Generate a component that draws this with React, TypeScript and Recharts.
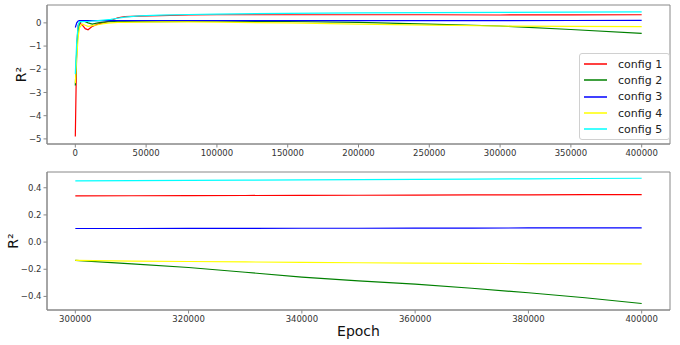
import React from "react";
import {
  LineChart,
  Line,
  XAxis,
  YAxis,
  Legend,
  ReferenceArea,
} from "recharts";

// full training run
const topEpochs = [
  0, 1000, 2000, 3000, 5000, 7000, 9000, 12000, 16000, 20000, 25000, 30000,
  35000, 45000, 60000, 80000, 100000, 150000, 200000, 250000, 300000, 350000, 400000,
];
const topConfig1 = [
  -4.9, -1.0, -0.1, 0.0, -0.1, -0.25, -0.3, -0.15, -0.05, 0.0, 0.1, 0.22,
  0.27, 0.29, 0.31, 0.34, 0.35, 0.35, 0.35, 0.35, 0.34, 0.345, 0.35,
];
const topConfig2 = [
  -2.7, -1.2, -0.3, 0.0, 0.08, 0.05, 0.0, -0.05, 0.0, 0.03, 0.05, 0.05,
  0.05, 0.05, 0.05, 0.06, 0.07, 0.06, 0.02, -0.05, -0.135, -0.285, -0.452,
];
const topConfig3 = [
  -0.2, 0.0, 0.08, 0.1, 0.1, 0.1, 0.1, 0.1, 0.1, 0.1, 0.1, 0.1,
  0.1, 0.1, 0.1, 0.1, 0.1, 0.1, 0.1, 0.1, 0.1, 0.102, 0.105,
];
const topConfig4 = [
  -2.6, -1.5, -0.6, -0.2, -0.05, -0.1, -0.15, -0.12, -0.08, -0.03, 0.0, 0.02,
  0.02, 0.03, 0.04, 0.04, 0.03, 0.0, -0.05, -0.1, -0.135, -0.152, -0.16,
];
const topConfig5 = [
  -2.2, -0.8, -0.1, 0.05, 0.05, 0.06, 0.06, 0.08, 0.1, 0.12, 0.15, 0.2,
  0.25, 0.3, 0.33, 0.36, 0.38, 0.41, 0.43, 0.44, 0.45, 0.46, 0.47,
];

// last 100k epochs, zoomed
const bottomEpochs = [
  300000, 310000, 320000, 330000, 340000, 350000, 360000, 370000, 380000, 390000, 400000,
];
const bottomConfig1 = [0.34, 0.341, 0.342, 0.343, 0.344, 0.345, 0.346, 0.347, 0.348, 0.349, 0.35];
const bottomConfig2 = [-0.135, -0.16, -0.187, -0.222, -0.258, -0.285, -0.31, -0.34, -0.373, -0.41, -0.452];
const bottomConfig3 = [0.1, 0.1, 0.101, 0.101, 0.102, 0.102, 0.103, 0.103, 0.104, 0.104, 0.105];
const bottomConfig4 = [-0.135, -0.14, -0.143, -0.146, -0.149, -0.152, -0.155, -0.157, -0.158, -0.159, -0.16];
const bottomConfig5 = [0.45, 0.452, 0.454, 0.456, 0.458, 0.46, 0.462, 0.464, 0.466, 0.468, 0.47];

const seriesNames = ["config 1", "config 2", "config 3", "config 4", "config 5"];
const seriesColors = ["#ff0000", "#008000", "#0000ff", "#ffff00", "#00ffff"];

const topXTicks = [0, 50000, 100000, 150000, 200000, 250000, 300000, 350000, 400000];
const topYTicks = [-5, -4, -3, -2, -1, 0];
const bottomXTicks = [300000, 320000, 340000, 360000, 380000, 400000];
const bottomYTicks = [-0.4, -0.2, 0, 0.2, 0.4];

const topData = topEpochs.map((epoch, i) => ({
  epoch,
  c1: topConfig1[i],
  c2: topConfig2[i],
  c3: topConfig3[i],
  c4: topConfig4[i],
  c5: topConfig5[i],
}));

const bottomData = bottomEpochs.map((epoch, i) => ({
  epoch,
  c1: bottomConfig1[i],
  c2: bottomConfig2[i],
  c3: bottomConfig3[i],
  c4: bottomConfig4[i],
  c5: bottomConfig5[i],
}));

const keys = ["c1", "c2", "c3", "c4", "c5"];
const FONT = "DejaVu Sans, sans-serif";
const tickStyle = { fill: "#333", fontSize: 8.5, fontFamily: FONT };
const spine = "#888";

const minus = (s: string) => s.replace("-", "\u2212");

function LegendBox(props: any) {
  const items = props.payload || [];
  return (
    <div
      style={{
        border: "1px solid #d0d0d0",
        borderRadius: 3,
        background: "#fff",
        padding: "2px 0",
        fontFamily: FONT,
        fontSize: 11,
        color: "#222",
      }}
    >
      {items.map((it: any) => (
        <div key={it.value} style={{ display: "flex", alignItems: "center", height: 16.3 }}>
          <svg width={34} height={10} style={{ marginLeft: 4 }}>
            <line x1={0} y1={5} x2={23} y2={5} stroke={it.color} strokeWidth={1.5} />
          </svg>
          <span>{it.value}</span>
        </div>
      ))}
    </div>
  );
}

export default function App() {
  return (
    <div style={{ position: "absolute", left: 0, top: 0, width: 680, height: 345, background: "#fff" }}>
      <div style={{ position: "absolute", left: 0, top: 0 }}>
        <LineChart width={680} height={165} data={topData} margin={{ top: 5, right: 10, left: 0, bottom: 0 }}>
          <XAxis
            dataKey="epoch"
            type="number"
            domain={[-20000, 420000]}
            ticks={topXTicks}
            interval={0}
            allowDataOverflow
            height={21}
            stroke={spine}
            tickSize={3.5}
            tickMargin={2}
            tick={tickStyle}
          />
          <YAxis
            type="number"
            domain={[-5.22, 0.77]}
            ticks={topYTicks}
            interval={0}
            allowDataOverflow
            width={47}
            stroke={spine}
            tickSize={3.5}
            tickMargin={2}
            tick={tickStyle}
            tickFormatter={(v: number) => minus(String(v))}
            label={{ value: "R²", angle: -90, position: "center", dx: -2, style: { fontFamily: FONT, fontSize: 14, fill: "#111" } }}
          />
          <ReferenceArea x1={-20000} x2={420000} y1={-5.22} y2={0.77} fill="none" stroke={spine} strokeWidth={1} />
          {keys.map((k, i) => (
            <Line
              key={k}
              dataKey={k}
              name={seriesNames[i]}
              stroke={seriesColors[i]}
              strokeWidth={1.2}
              dot={false}
              isAnimationActive={false}
            />
          ))}
          <Legend
            layout="vertical"
            align="center"
            verticalAlign="middle"
            content={LegendBox}
            wrapperStyle={{ left: 579, top: 53, width: 91, height: 85, right: "auto", bottom: "auto" }}
          />
        </LineChart>
      </div>
      <div style={{ position: "absolute", left: 0, top: 165 }}>
        <LineChart width={680} height={180} data={bottomData} margin={{ top: 7, right: 10, left: 0, bottom: 0 }}>
          <XAxis
            dataKey="epoch"
            type="number"
            domain={[295000, 405000]}
            ticks={bottomXTicks}
            interval={0}
            allowDataOverflow
            height={35}
            stroke={spine}
            tickSize={3.5}
            tickMargin={2}
            tick={tickStyle}
            label={{ value: "Epoch", position: "insideBottom", offset: 9, style: { fontFamily: FONT, fontSize: 14, fill: "#111" } }}
          />
          <YAxis
            type="number"
            domain={[-0.5, 0.516]}
            ticks={bottomYTicks}
            interval={0}
            allowDataOverflow
            width={47}
            stroke={spine}
            tickSize={3.5}
            tickMargin={2}
            tick={tickStyle}
            tickFormatter={(v: number) => minus(v.toFixed(1))}
            label={{ value: "R²", angle: -90, position: "center", dx: -10, style: { fontFamily: FONT, fontSize: 14, fill: "#111" } }}
          />
          <ReferenceArea x1={295000} x2={405000} y1={-0.5} y2={0.516} fill="none" stroke={spine} strokeWidth={1} />
          {keys.map((k, i) => (
            <Line
              key={k}
              dataKey={k}
              name={seriesNames[i]}
              stroke={seriesColors[i]}
              strokeWidth={1.2}
              dot={false}
              isAnimationActive={false}
            />
          ))}
        </LineChart>
      </div>
    </div>
  );
}
